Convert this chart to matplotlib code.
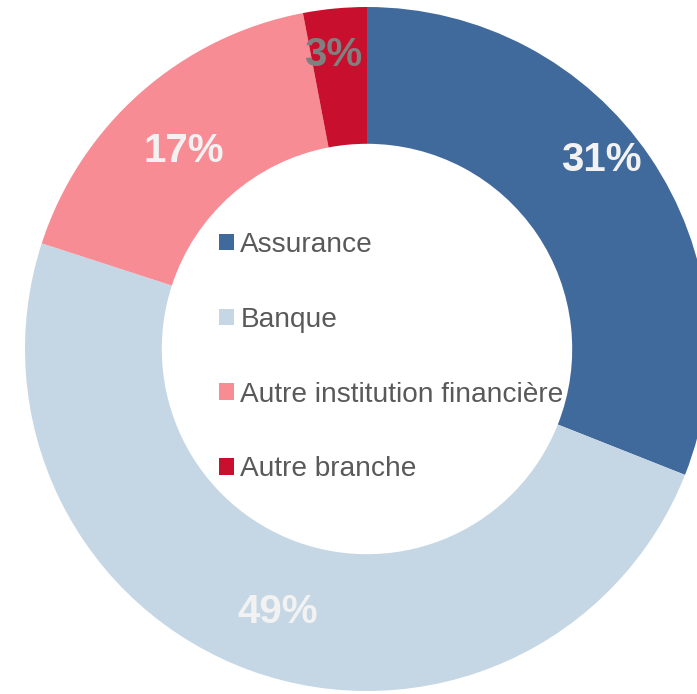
import numpy as np
import matplotlib.pyplot as plt
from matplotlib.patches import Patch

plt.rcParams['font.family'] = ['Liberation Sans', 'DejaVu Sans']

categories = ['Assurance', 'Banque', 'Autre institution financière', 'Autre branche']
values = [31, 49, 17, 3]
colors = ['#416A9C', '#C5D7E5', '#F88C95', '#C8102E']
label_colors = ['#F2F2F2', '#F2F2F2', '#F2F2F2', '#808080']
# label placement tweaks (radius fraction, angle offset in degrees)
label_dist = [0.88, 0.813, 0.79, 0.865]
label_shift = [4.7, 1.1, 1.4, 1.2]

W, H = 697, 694
cx, cy, R = 367, 349, 342

fig = plt.figure(figsize=(W / 100, H / 100), dpi=100)
ax = fig.add_axes([0, 0, 1, 1])

wedges, texts, autotexts = ax.pie(
    values, colors=colors, startangle=90, counterclock=False,
    radius=1, autopct='%1.0f%%', pctdistance=0.82,
    wedgeprops=dict(width=0.4, edgecolor='none'),
    textprops=dict(fontsize=29, fontweight='bold'))
for w, t, c, d, s in zip(wedges, autotexts, label_colors, label_dist, label_shift):
    t.set_color(c)
    a = np.deg2rad((w.theta1 + w.theta2) / 2 + s)
    t.set_position((d * np.cos(a), d * np.sin(a)))

ax.set_aspect('auto')
ax.set_xlim(-cx / R, (W - cx) / R)
ax.set_ylim(-(H - cy) / R, cy / R)
ax.axis('off')

handles = [Patch(facecolor=c, edgecolor='none') for c in colors]
fig.legend(handles, categories, loc='upper left',
           bbox_to_anchor=(219 / W, 1 - 232 / H),
           frameon=False, fontsize=20.2, labelcolor='#595959',
           handlelength=0.54, handleheight=0.54, handletextpad=0.22,
           labelspacing=1.74, borderpad=0, borderaxespad=0)

fig.savefig('out.png', dpi=100)
